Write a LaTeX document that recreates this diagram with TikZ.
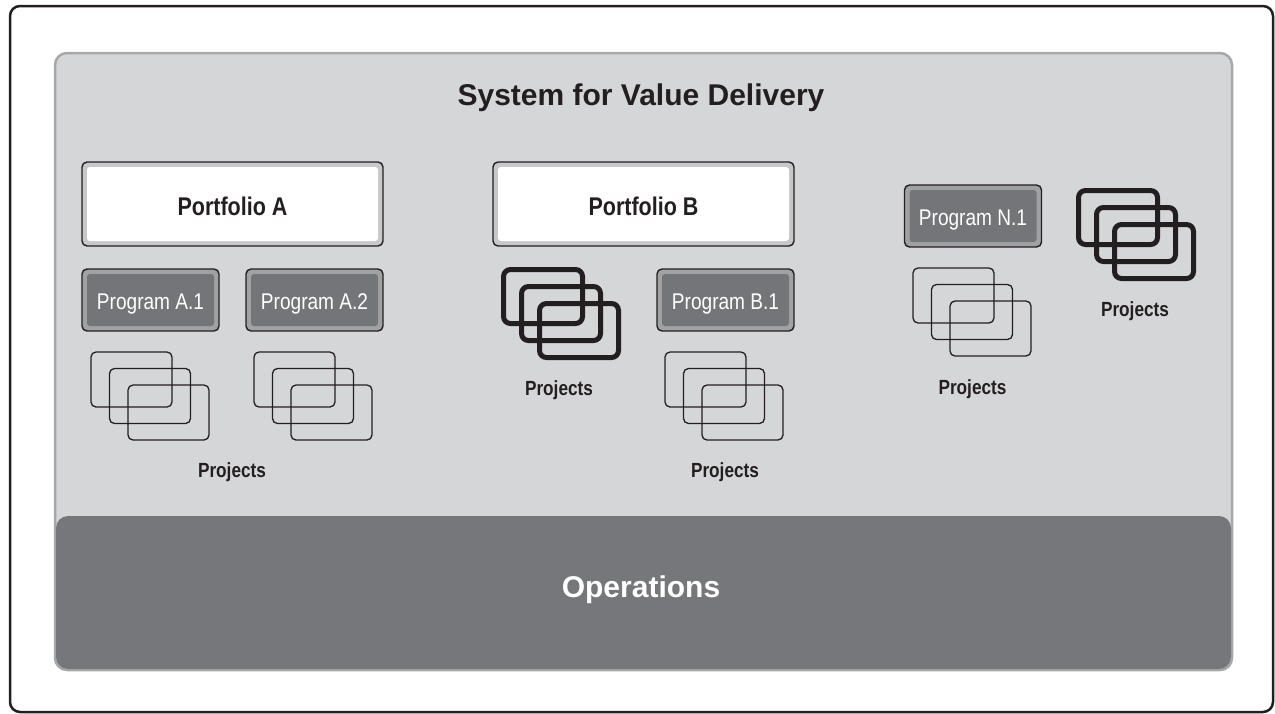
\documentclass[tikz,border=0pt]{standalone}
\usepackage{fontspec}
\setmainfont{Liberation Sans}
\newfontfamily\narrowfont[FakeStretch=0.84]{Liberation Sans}
\definecolor{inkdark}{HTML}{231F20}
\definecolor{panelfill}{HTML}{D5D6D8}
\definecolor{panelline}{HTML}{A7A8AA}
\definecolor{opsfill}{HTML}{76777A}
\definecolor{portband}{HTML}{C8C8CA}
\definecolor{progfill}{HTML}{747578}
\definecolor{progband}{HTML}{A0A1A3}
\tikzset{
  innerfill/.style={path picture={\fill[#1,rounded corners=3pt]
    ([shift={(5pt,-5pt)}]path picture bounding box.north west) rectangle
    ([shift={(-5pt,5pt)}]path picture bounding box.south east);}},
  boxbase/.style={draw=inkdark, line width=1.4pt, rounded corners=5pt, inner sep=0pt},
  portbox/.style={boxbase, fill=portband, innerfill=white, minimum width=301pt,
    minimum height=84pt, font=\narrowfont\bfseries\fontsize{25.6}{28}\selectfont,
    text=inkdark, text height=23pt, text depth=0pt},
  progbox/.style={boxbase, fill=progband, innerfill=progfill, minimum width=137pt,
    minimum height=62pt, font=\narrowfont\fontsize{22.7}{26}\selectfont,
    text=white, text height=18.6pt, text depth=0pt},
  projcard/.style={draw=inkdark, line width=1.3pt, rounded corners=5pt},
  projcardbold/.style={draw=inkdark, line width=5pt, rounded corners=7pt},
  projlabel/.style={anchor=base, inner sep=0pt, text=inkdark,
    font=\narrowfont\bfseries\fontsize{20.5}{24}\selectfont},
  bigtitle/.style={anchor=base, inner sep=0pt, font=\bfseries\fontsize{30}{34}\selectfont}
}
\begin{document}
\begin{tikzpicture}[x=1pt,y=-1pt]
\useasboundingbox (0,0) rectangle (1275,713);
% frame and panels
\draw[inkdark,line width=2.5pt,rounded corners=10pt] (10,6) rectangle (1273,712);
\draw[panelline,fill=panelfill,line width=2.5pt,rounded corners=12pt] (55,53) rectangle (1232,670);
\fill[opsfill,rounded corners=12pt] (56,516) rectangle (1231,669);
\node[bigtitle,text=inkdark] (title) at (641,105) {System for Value Delivery};
\node[bigtitle,text=white] (ops) at (641,597) {Operations};

% portfolios and programs
\node[portbox] (portA) at (232.5,204) {Portfolio A};
\node[portbox] (portB) at (643.5,204) {Portfolio B};
\node[progbox] (progA1) at (150.5,300) {Program A.1};
\node[progbox] (progA2) at (314.5,300) {Program A.2};
\node[progbox] (progB1) at (725.5,300) {Program B.1};
\node[progbox,text height=18pt] (progN1) at (973,216) {Program N.1};

% project stacks
\foreach \sx/\sy in {91/352, 254/352, 665/352, 913/268}
  \foreach \i in {0,1,2}
    \draw[projcard] (\sx+18.5*\i,\sy+16.5*\i) rectangle +(81,55);
\foreach \sx/\sy in {503.5/269.5, 1078.5/190.5}
  \foreach \i in {0,1,2}
    \draw[projcardbold] (\sx+18*\i,\sy+17*\i) rectangle +(79,54);

\node[projlabel] (projA) at (232,477) {Projects};
\node[projlabel] (projB) at (559,395.5) {Projects};
\node[projlabel] (projB1) at (725,477) {Projects};
\node[projlabel] (projN) at (972.5,394) {Projects};
\node[projlabel] (projNb) at (1135,316) {Projects};
\end{tikzpicture}
\end{document}
